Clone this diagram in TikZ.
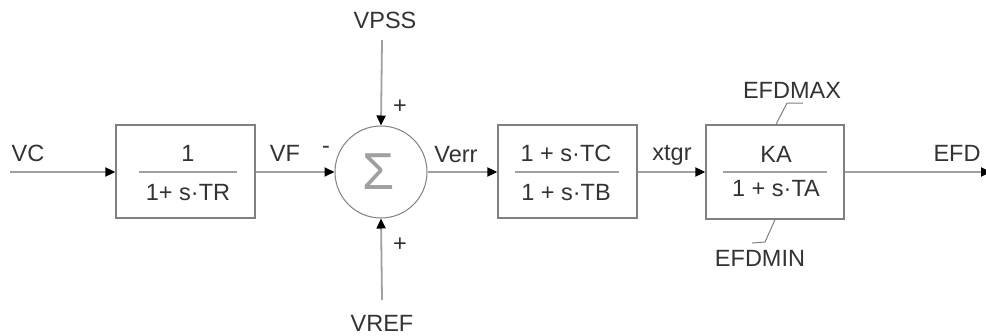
\documentclass[tikz,border=0pt]{standalone}
\usepackage{fontspec}
\setmainfont{Liberation Sans}
\usetikzlibrary{arrows.meta,calc}
\definecolor{linegray}{HTML}{A0A0A0}
\definecolor{boxgray}{HTML}{808080}
\definecolor{txt}{HTML}{333333}
\begin{document}
\begin{tikzpicture}[x=1pt,y=-1pt,
  lbl/.style={font=\fontsize{23.5}{26}\selectfont, text=txt, inner sep=0pt},
  blockbox/.style={draw=boxgray, line width=1.3pt, minimum width=139pt, minimum height=93pt, inner sep=0pt},
  wire/.style={draw=linegray, line width=1.8pt},
  arr/.style={wire, -{Triangle[length=10pt,width=9pt,color=black]}},
  frac/.style={draw=linegray, line width=1.8pt},
  lim/.style={draw=boxgray, line width=1pt}]
\useasboundingbox (0,0) rectangle (986,335);
\fill[white] (0,0) rectangle (986,335);
% blocks
\node[blockbox] (box1) at (185.5,171.5) {};
\node[blockbox] (box2) at (567.5,171.5) {};
\node[blockbox, minimum width=138pt, minimum height=94pt] (box3) at (775,172) {};
\node[circle, draw=boxgray, line width=1pt, minimum size=92pt, inner sep=0pt] (sum) at (381,172) {};
\node[font=\fontsize{52}{52}\selectfont, text=linegray, inner sep=0pt] (sigma) at (379,172) {Σ};
% fractions
\node[lbl] (n1) at (188,153) {1};
\node[lbl] (d1) at (188,193) {1+ s·TR};
\draw[frac] ($(box1.center)+(-47,0.5)$) -- ($(box1.center)+(51,0.5)$);
\node[lbl] (n2) at (566,153) {1 + s·TC};
\node[lbl] (d2) at (566,193) {1 + s·TB};
\draw[frac] ($(box2.center)+(-53,0.5)$) -- ($(box2.center)+(51,0.5)$);
\node[lbl] (n3) at (776,154) {KA};
\node[lbl] (d3) at (776,189) {1 + s·TA};
\draw[frac] ($(box3.center)+(-52,0)$) -- ($(box3.center)+(52,0)$);
% labels
\node[lbl] (vc) at (28,153) {VC};
\node[lbl] (vf) at (285,153) {VF};
\node[lbl] (minus) at (326,150) {-};
\node[lbl] (vpss) at (385,20) {VPSS};
\node[lbl] (plus1) at (400,107) {+};
\node[lbl] (vref) at (382,323) {VREF};
\node[lbl] (plus2) at (400,245) {+};
\node[lbl] (verr) at (456,155) {Verr};
\node[lbl] (xtgr) at (672,155) {xtgr};
\node[lbl] (efdmax) at (792,90) {EFDMAX};
\node[lbl] (efdmin) at (760,258) {EFDMIN};
\node[lbl] (efd) at (957,153) {EFD};
% free ends
\coordinate (vcin) at (10,172);
\coordinate (vpssin) at (382,40);
\coordinate (vrefin) at (382,300);
\coordinate (efdout) at (991,172);
% connectors
\draw[arr] (vcin) -- (box1.west |- vcin);
\draw[arr] (box1.east |- vcin) -- (sum.west);
\draw[arr] (vpssin) -- (sum.north);
\draw[arr] (vrefin) -- (sum.south);
\draw[arr] (sum.east) -- (box2.west |- sum.east);
\draw[arr] (box2.east |- sum.east) -- (box3.west |- sum.east);
\draw[arr] (box3.east) -- (efdout);
% limits
\draw[lim] (box3.north -| 776,0) -- (787,103) -- (803,103);
\draw[lim] (box3.south -| 775,0) -- (765,242) -- (752,243);
\end{tikzpicture}
\end{document}
